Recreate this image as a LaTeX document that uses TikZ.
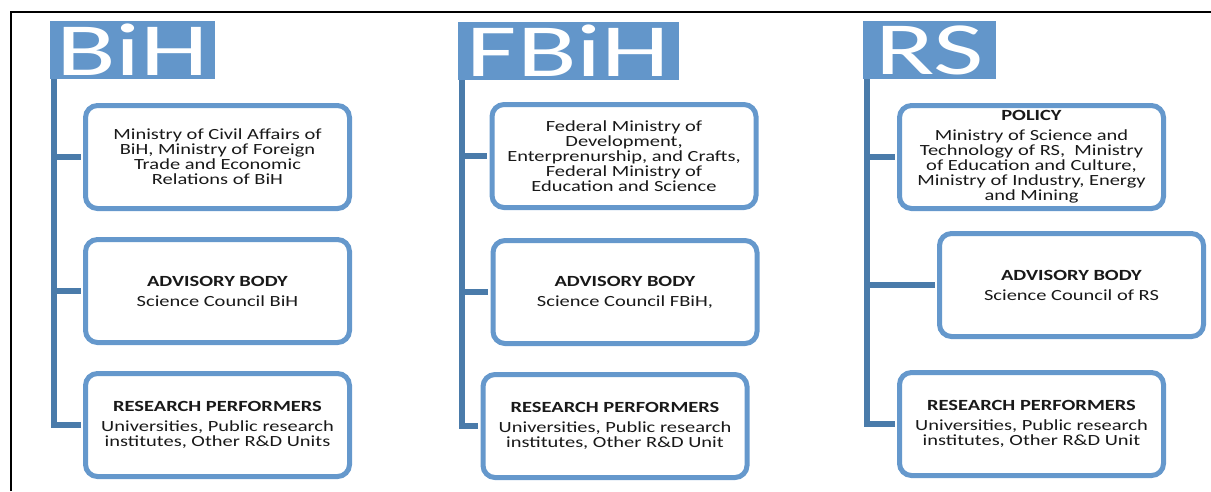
\documentclass[tikz,border=0pt]{standalone}
\usepackage{fontspec}
\setmainfont[FakeStretch=1.32]{Carlito}
\newfontfamily\headfont[FakeStretch=1.46]{Carlito}
\usepackage{xcolor}
\usetikzlibrary{positioning}

\definecolor{boxblue}{RGB}{101,152,204}
\definecolor{barblue}{RGB}{74,123,170}
\definecolor{headblue}{RGB}{99,150,202}
\definecolor{txtgray}{RGB}{25,25,25}

\begin{document}
\begin{tikzpicture}[
  x = 1pt, y = -1pt,
  head/.style = {fill=headblue, text=white, inner sep=0pt,
                 minimum height=58pt,
                 font=\headfont\fontsize{75}{75}\selectfont},
  unit/.style = {draw=boxblue, line width=5pt, rounded corners=12pt,
                 fill=white, minimum width=264pt, minimum height=103pt,
                 inner sep=2pt, align=center, text=txtgray,
                 font=\fontsize{15.5}{15}\selectfont},
  link/.style = {draw=barblue, line width=5.5pt, shorten >=2.5pt}
]
  \useasboundingbox (0,0) rectangle (1211,491);
  \draw[line width=2pt] (11,491) |- (1211,12);

  % column headers
  \node[head, minimum width=165pt] (bih)  at (132.5,50) {BiH};
  \node[head, minimum width=221pt] (fbih) at (568.5,51) {FBiH};
  \node[head, minimum width=133pt] (rs)   at (929.5,50) {RS};

  % BiH
  \node[unit] (bih1) at (217.5,157) {Ministry of Civil Affairs of\\ BiH, Ministry of Foreign\\ Trade and Economic\\ Relations of BiH};
  \node[unit] (bih2) at (217.5,291) {\textbf{ADVISORY BODY}\\[5pt] Science Council BiH};
  \node[unit] (bih3) at (217.5,425) {\textbf{RESEARCH PERFORMERS}\\[5pt] Universities, Public research\\ institutes, Other R\&D Units};

  % FBiH
  \node[unit] (fbih1) at (624,156) {Federal Ministry of\\ Development,\\ Enterprenurship, and Crafts,\\ Federal Ministry of\\ Education and Science};
  \node[unit] (fbih2) at (625,292) {\textbf{ADVISORY BODY}\\[5pt] Science Council FBiH,};
  \node[unit] (fbih3) at (615,426) {\textbf{RESEARCH PERFORMERS}\\[5pt] Universities, Public research\\ institutes, Other R\&D Unit};

  % RS
  \node[unit] (rs1) at (1031.5,157) {\textbf{POLICY}\\[5pt] Ministry of Science and\\ Technology of RS,\ \ Ministry\\ of Education and Culture,\\ Ministry of Industry, Energy\\ and Mining};
  \node[unit] (rs2) at (1071.5,285) {\textbf{ADVISORY BODY}\\[5pt] Science Council of RS};
  \node[unit] (rs3) at (1031.5,424) {\textbf{RESEARCH PERFORMERS}\\[5pt] Universities, Public research\\ institutes, Other R\&D Unit};

  % tree lines
  \foreach \col in {bih, fbih, rs}
    \foreach \i in {1,2,3}
      \draw[link] ([xshift=4pt]\col.south west) |- (\col\i.west);
\end{tikzpicture}
\end{document}
